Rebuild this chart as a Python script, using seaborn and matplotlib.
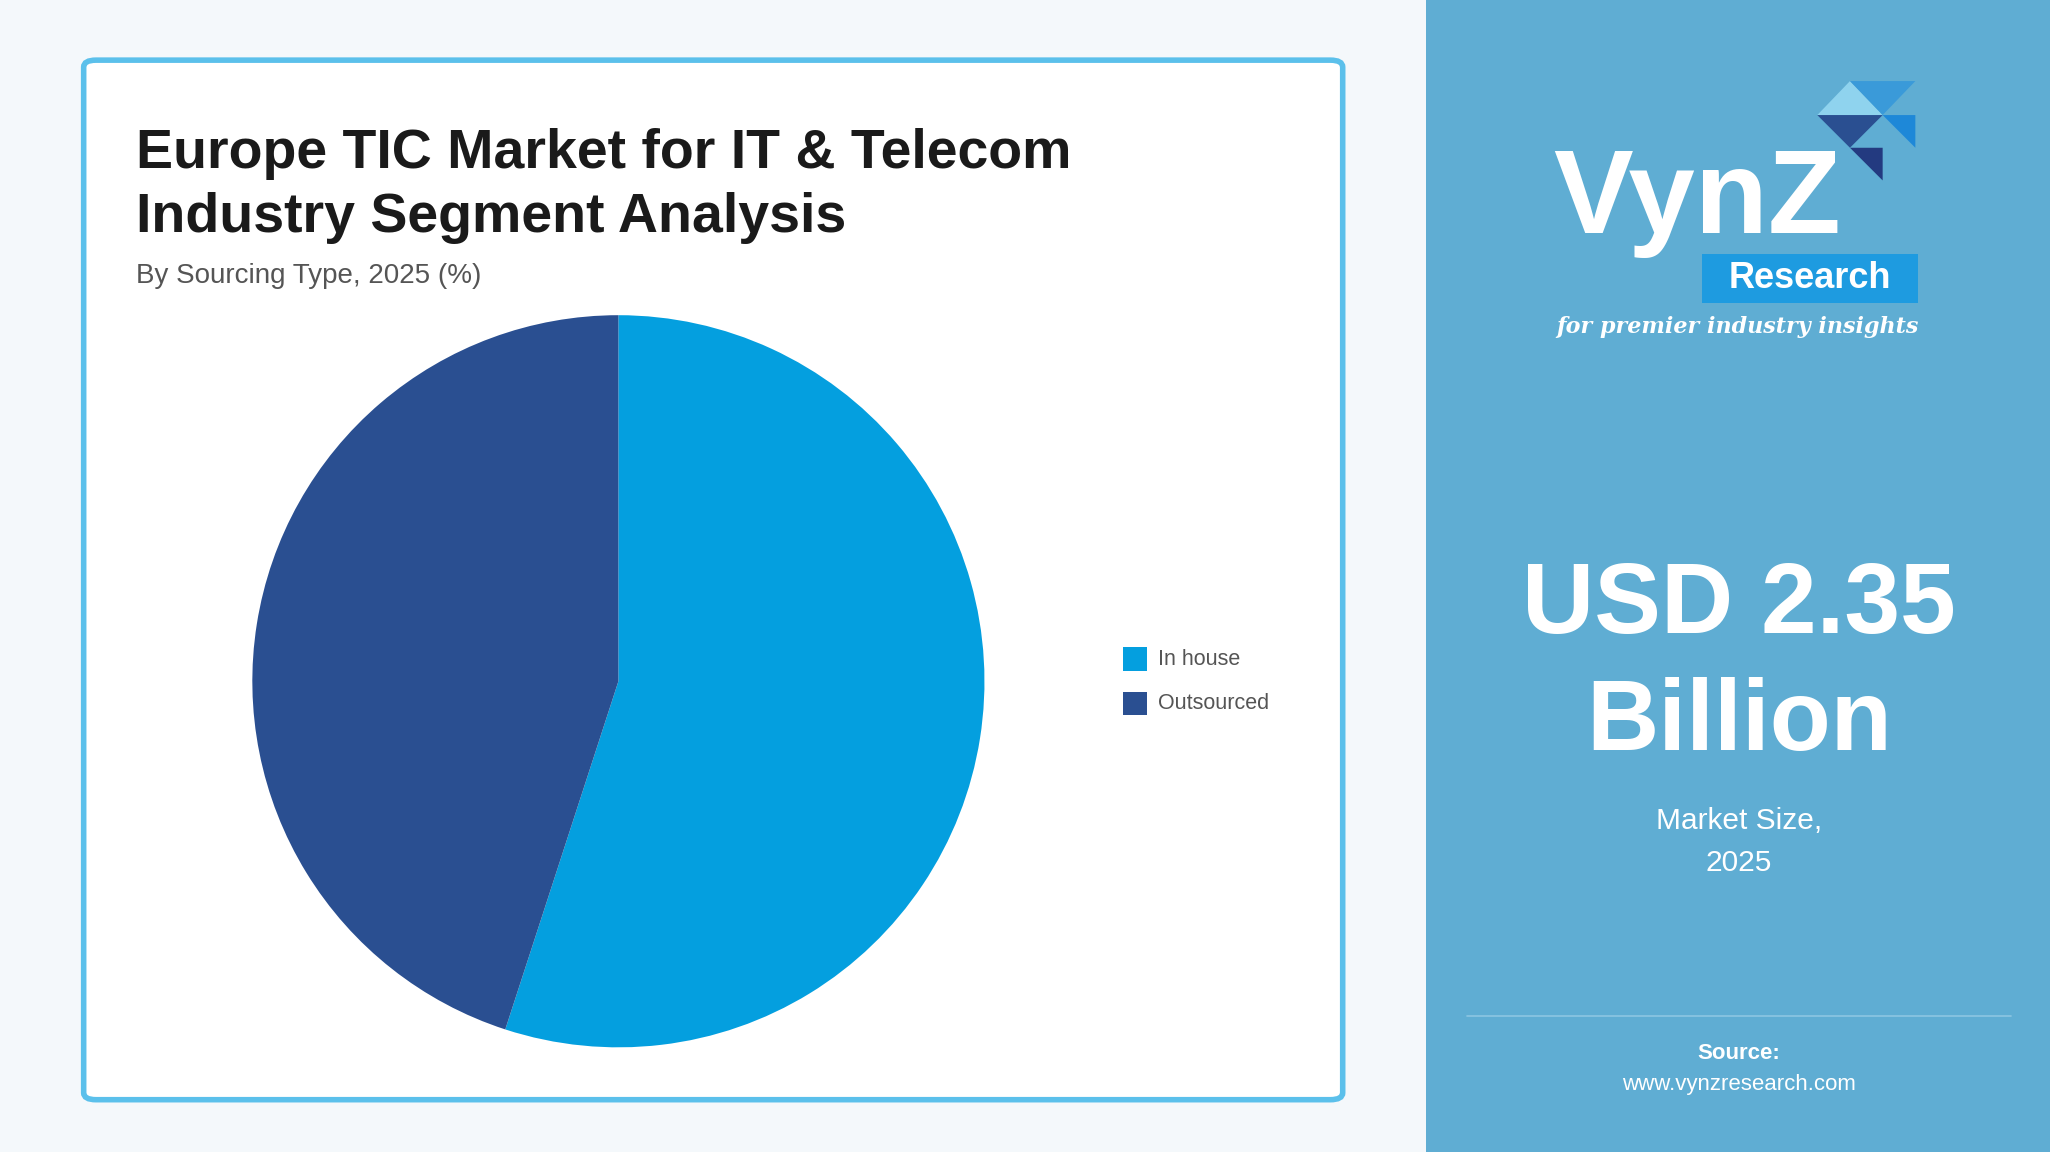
import matplotlib
matplotlib.use("Agg")
import matplotlib.pyplot as plt
import seaborn as sns
from matplotlib.patches import FancyBboxPatch, Rectangle, Polygon

sns.set_theme(style="white")
plt.rcParams['font.family'] = ['Liberation Sans', 'DejaVu Sans']

categories = ["In house", "Outsourced"]
shares = [55, 45]
colors = ["#049FDF", "#2A4F91"]

W, H = 1568, 881
fig = plt.figure(figsize=(20.5, 11.52), dpi=100)
fig.patch.set_facecolor("#F4F8FB")
def fx(x): return x / W
def fy(y): return 1 - y / H

# card
fig.patches.append(FancyBboxPatch((fx(64), fy(841)), fx(963), (795) / H,
    boxstyle="round,pad=0,rounding_size=0.006", transform=fig.transFigure,
    facecolor="white", edgecolor="#5BC0EB", linewidth=4, zorder=-2))
# right panel
fig.patches.append(Rectangle((fx(1091), 0), 1 - fx(1091), 1, transform=fig.transFigure,
    facecolor="#5FADD3", edgecolor="none", zorder=-2))
fig.lines.append(plt.Line2D([fx(1122), fx(1538)], [fy(777), fy(777)], transform=fig.transFigure,
    color="#8CC6E2", lw=1.2))

fig.text(fx(104), fy(118), "Europe TIC Market for IT & Telecom",
         fontsize=40, fontweight="bold", color="#1A1A1A", va="center")
fig.text(fx(104), fy(167), "Industry Segment Analysis",
         fontsize=40, fontweight="bold", color="#1A1A1A", va="center")
fig.text(fx(104), fy(211), "By Sourcing Type, 2025 (%)", fontsize=20, color="#555555", va="center")

ax = fig.add_axes([fx(473 - 280), fy(801), 560 / W, 560 / H], zorder=2)
ax.pie(shares, colors=colors, startangle=90, counterclock=False,
       wedgeprops=dict(linewidth=0))
ax.set_xlim(-1, 1)
ax.set_ylim(-1, 1)
ax.set_aspect("equal")
ax.axis("off")

for i, (c, col) in enumerate(zip(categories, colors)):
    y = 504 + 34 * i
    fig.patches.append(Rectangle((fx(859), fy(y + 9)), fx(18), 18 / H, transform=fig.transFigure,
                                 facecolor=col, edgecolor="none"))
    fig.text(fx(886), fy(y), c, fontsize=15.5, color="#555555", va="center")

# logo
tri = [((1390, 88), (1415, 62), (1440, 88)), ((1415, 62), (1440, 88), (1465, 62)),
       ((1390, 88), (1415, 113), (1440, 88)), ((1440, 88), (1465, 113), (1465, 88)),
       ((1415, 113), (1440, 138), (1440, 113))]
tcol = ["#8FD3EE", "#3A9AD9", "#2A4F91", "#1E88D8", "#233A80"]
for t, c in zip(tri, tcol):
    fig.patches.append(Polygon([(fx(a), fy(b)) for a, b in t], transform=fig.transFigure,
                               facecolor=c, edgecolor="none"))
fig.text(fx(1188), fy(155), "VynZ", fontsize=86, fontweight="bold", color="white", va="center")
fig.patches.append(Rectangle((fx(1302), fy(232)), fx(165), 38 / H, transform=fig.transFigure,
                             facecolor="#1E9BE0", edgecolor="none"))
fig.text(fx(1384), fy(213), "Research", fontsize=26, fontweight="bold", color="white",
         va="center", ha="center")
fig.text(fx(1329), fy(250), "for premier industry insights", fontsize=16, style="italic",
         fontweight="bold", color="white", va="center", ha="center", family="DejaVu Serif")

fig.text(fx(1330), fy(464), "USD 2.35", fontsize=72, fontweight="bold", color="white",
         ha="center", va="center")
fig.text(fx(1330), fy(554), "Billion", fontsize=72, fontweight="bold", color="white",
         ha="center", va="center")
fig.text(fx(1330), fy(628), "Market Size,", fontsize=21.5, color="white", ha="center", va="center")
fig.text(fx(1330), fy(660), "2025", fontsize=21.5, color="white", ha="center", va="center")
fig.text(fx(1330), fy(806), "Source:", fontsize=16, fontweight="bold", color="white",
         ha="center", va="center")
fig.text(fx(1330), fy(829), "www.vynzresearch.com", fontsize=16, color="white",
         ha="center", va="center")

fig.savefig("out.png", dpi=100, facecolor=fig.get_facecolor())
